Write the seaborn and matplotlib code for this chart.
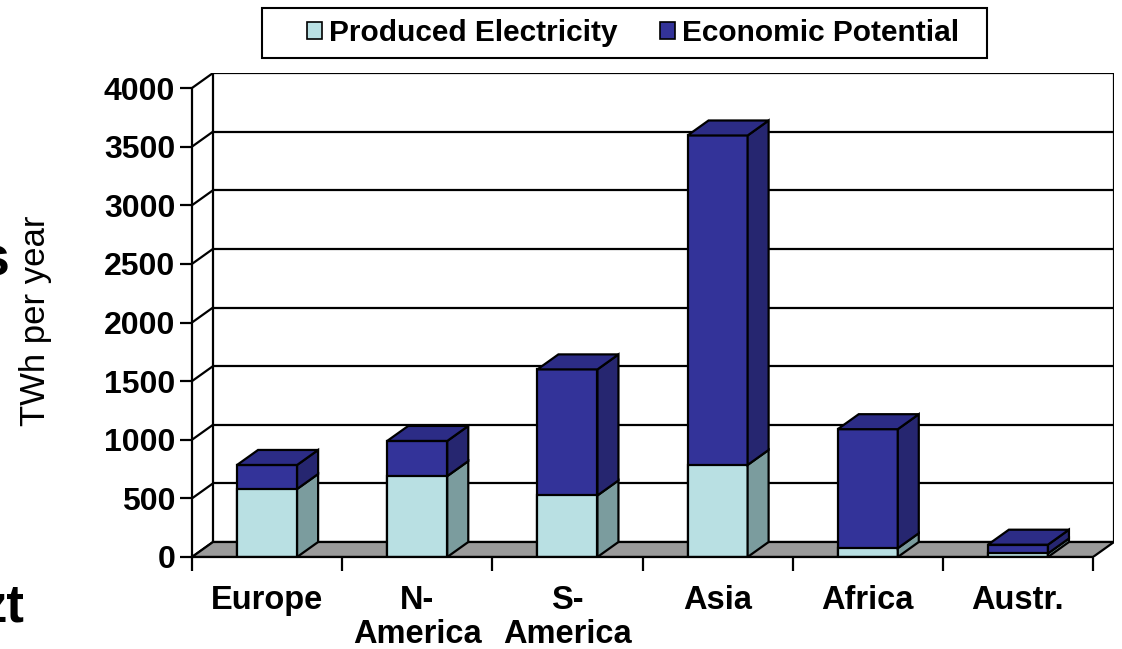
import numpy as np
import pandas as pd
import matplotlib
matplotlib.use("Agg")
import matplotlib.pyplot as plt
from matplotlib.patches import Polygon, Patch, Rectangle
import seaborn as sns

# ---------------- data ----------------
regions = ["Europe", "N-\nAmerica", "S-\nAmerica", "Asia", "Africa", "Austr."]
produced = [580, 690, 525, 785, 75, 30]          # TWh per year
economic_total = [785, 990, 1600, 3595, 1090, 105]  # economic potential (total height)
yticks = [0, 500, 1000, 1500, 2000, 2500, 3000, 3500, 4000]
series_names = ["Produced Electricity", "Economic Potential"]

# ---------------- style ----------------
sns.set_style("white")
plt.rcParams["font.family"] = ["Liberation Sans", "DejaVu Sans"]
plt.rcParams["text.color"] = "black"
plt.rcParams["axes.labelcolor"] = "black"
plt.rcParams["xtick.color"] = "black"
plt.rcParams["ytick.color"] = "black"

light_front = "#b9e0e3"
light_side = "#7b9c9e"
dark_front = "#333399"
dark_side = "#262670"
dark_top = "#2c2c86"
floor_col = "#9a9a9a"

W, H = 1122, 649
fig = plt.figure(figsize=(W / 100, H / 100), dpi=100)

# layout in pixels
x0_px, x1_px = 192, 1093      # front plane x extent
y0_px, y4000_px = 557, 88     # front plane: value 0 and 4000
dx_px, dy_px = 21, 15         # 3D depth offset
ymax = 4000
ncat = len(regions)

px_per_x = (x1_px - x0_px) / ncat
px_per_y = (y0_px - y4000_px) / ymax
DX = dx_px / px_per_x
DY = dy_px / px_per_y

left = x0_px / W
right = (x1_px + dx_px) / W
bottom = 1 - y0_px / H
top = 1 - (y4000_px - dy_px) / H
ax = fig.add_axes([left, bottom, right - left, top - bottom])

# front faces with seaborn
df = pd.DataFrame({"region": regions, "produced": produced, "total": economic_total})
sns.barplot(data=df, x="region", y="total", order=regions, color=dark_front, saturation=1,
            width=0.4, edgecolor="black", linewidth=1.6, ax=ax, zorder=3)
sns.barplot(data=df, x="region", y="produced", order=regions, color=light_front, saturation=1,
            width=0.4, edgecolor="black", linewidth=1.6, ax=ax, zorder=3)
dark_patches = list(ax.containers[0])
light_patches = list(ax.containers[1])
ax.set_xlim(-0.5, ncat - 0.5 + DX)
ax.set_ylim(0, ymax + DY)

lw = 1.6
# back wall gridlines and left-wall diagonals
for v in yticks:
    ax.plot([-0.5 + DX, ncat - 0.5 + DX], [v + DY, v + DY], color="black", lw=lw, zorder=0.5,
            solid_capstyle="butt")
    ax.plot([-0.5, -0.5 + DX], [v, v + DY], color="black", lw=lw, zorder=0.5)
ax.plot([-0.5 + DX, -0.5 + DX], [DY, ymax + DY], color="black", lw=lw, zorder=0.5)
ax.plot([ncat - 0.5 + DX, ncat - 0.5 + DX], [DY, ymax + DY], color="black", lw=lw, zorder=0.5)

# floor
floor = Polygon([(-0.5, 0), (ncat - 0.5, 0), (ncat - 0.5 + DX, DY), (-0.5 + DX, DY)],
                closed=True, facecolor=floor_col, edgecolor="black", lw=lw, zorder=1)
ax.add_patch(floor)

# 3D side and top faces
for dp, lp in zip(dark_patches, light_patches):
    xl = dp.get_x()
    xr = xl + dp.get_width()
    ht = dp.get_height()
    hp = lp.get_height()
    side_l = Polygon([(xr, 0), (xr + DX, DY), (xr + DX, hp + DY), (xr, hp)], closed=True,
                     facecolor=light_side, edgecolor="black", lw=lw, zorder=3)
    side_d = Polygon([(xr, hp), (xr + DX, hp + DY), (xr + DX, ht + DY), (xr, ht)], closed=True,
                     facecolor=dark_side, edgecolor="black", lw=lw, zorder=3)
    topf = Polygon([(xl, ht), (xr, ht), (xr + DX, ht + DY), (xl + DX, ht + DY)], closed=True,
                   facecolor=dark_top, edgecolor="black", lw=lw, zorder=3)
    for p in (side_l, side_d, topf):
        ax.add_patch(p)

# axes, spines, ticks
for s in ["top", "right"]:
    ax.spines[s].set_visible(False)
ax.spines["left"].set_bounds(0, ymax)
ax.spines["bottom"].set_bounds(-0.5, ncat - 0.5)
for s in ["left", "bottom"]:
    ax.spines[s].set_linewidth(lw)
    ax.spines[s].set_color("black")
    ax.spines[s].set_zorder(4)

ax.set_yticks(yticks)
ax.set_yticklabels([str(v) for v in yticks], fontsize=23, fontweight="bold")
ax.tick_params(axis="y", direction="out", length=9, width=lw, pad=3, left=True)

ax.set_xticks(range(ncat))
ax.set_xticklabels(regions, fontsize=23.5, fontweight="bold", linespacing=1.12)
ax.set_xticks(np.arange(-0.5, ncat, 1.0), minor=True)
ax.tick_params(axis="x", which="major", length=0, pad=20, bottom=True)
ax.tick_params(axis="x", which="minor", direction="out", length=10, width=lw, bottom=True)
ax.set_xlabel("")
ax.set_ylabel("")
ax.grid(False)

# y label
fig.text(36 / W, 1 - 321 / H, "TWh per year", rotation=90, fontsize=25,
         ha="center", va="center")

# clipped slide remnants on the left edge
fig.text(9 / W, 1 - 275 / H, "s", fontsize=40, fontweight="bold", ha="right", va="baseline")
fig.text(25 / W, 1 - 621 / H, "zt", fontsize=38, fontweight="bold", ha="right", va="baseline")

# legend (frame drawn separately to match the reference's box)
box = Rectangle((262 / W, 1 - 58 / H), (987 - 262) / W, 50 / H, transform=fig.transFigure,
                facecolor="white", edgecolor="black", lw=1.5, zorder=5)
fig.patches.append(box)
handles = [Patch(facecolor=light_front, edgecolor="black", lw=1.2),
           Patch(facecolor=dark_front, edgecolor="black", lw=1.2)]
leg = fig.legend(handles, series_names, loc="center", bbox_to_anchor=(633 / W, 1 - 33 / H),
                 ncol=2, frameon=False, prop={"size": 21.5, "weight": "bold"},
                 handlelength=0.5, handleheight=0.5, handletextpad=0.25,
                 columnspacing=1.4, borderpad=0.2, borderaxespad=0)
leg.set_zorder(6)

fig.savefig("out.png", dpi=100)
